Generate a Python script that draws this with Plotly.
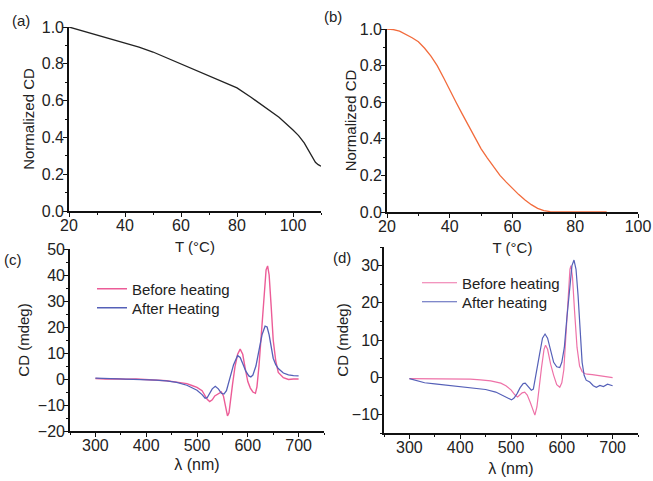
import plotly.graph_objects as go

# ---------------- data ----------------
temp_a = [20, 25, 30, 35, 40, 45, 50, 55, 60, 65, 70, 75, 80, 85, 90, 95, 100, 102, 104, 106, 107, 108, 109, 110]
cd_a = [1.0, 0.978, 0.958, 0.936, 0.915, 0.89, 0.864, 0.832, 0.80, 0.767, 0.736, 0.705, 0.669, 0.618, 0.564, 0.51,
        0.44, 0.41, 0.37, 0.32, 0.29, 0.265, 0.252, 0.243]

temp_b = [20, 22, 24, 26, 28, 30, 32, 34, 36, 38, 40, 42, 44, 46, 48, 50, 52, 54, 56, 58, 60, 62, 64, 66, 68, 70,
          72, 75, 80, 85, 90]
cd_b = [1.0, 0.997, 0.988, 0.972, 0.952, 0.93, 0.895, 0.852, 0.80, 0.735, 0.665, 0.60, 0.535, 0.47, 0.405, 0.345,
        0.295, 0.245, 0.20, 0.163, 0.128, 0.095, 0.066, 0.04, 0.02, 0.008, 0.002, 0.0, 0.0, 0.0, 0.0]

wl_c_before = [300, 320, 340, 360, 380, 400, 420, 440, 460, 480, 490, 500, 510, 515, 520, 525, 530, 535, 540, 548,
               552, 556, 560, 563, 566, 570, 575, 580, 585, 590, 595, 600, 605, 610, 615, 618, 622, 627, 632, 636,
               639, 642, 646, 650, 655, 660, 670, 680, 690, 700]
cd_c_before = [0.2, 0.0, 0.1, -0.1, 0.0, -0.2, -0.4, -0.7, -1.2, -1.8, -2.5, -3.2, -4.5, -6.0, -7.8, -8.7, -8.0,
               -6.5, -5.8, -5.0, -6.5, -10.0, -14.2, -13.0, -9.0, -2.0, 5.0, 9.5, 11.5, 9.5, 4.0, -1.0, -3.5, -5.0,
               -5.5, -3.0, 5.0, 18.0, 33.0, 42.0, 43.5, 40.0, 28.0, 15.0, 7.0, 2.5, 0.5, -0.2, 0.0, 0.0]

wl_c_after = [300, 320, 340, 360, 380, 400, 420, 440, 460, 480, 490, 500, 510, 516, 520, 525, 530, 536, 542, 548,
              553, 558, 565, 572, 580, 585, 590, 596, 602, 606, 610, 616, 622, 628, 634, 638, 642, 646, 650, 655,
              660, 670, 680, 690, 700]
cd_c_after = [0.3, 0.2, 0.1, 0.0, -0.1, -0.2, -0.4, -0.7, -1.3, -2.4, -3.2, -4.3, -6.0, -7.4, -7.2, -5.5, -3.8,
              -2.8, -3.8, -5.5, -5.8, -4.5, 0.5, 5.5, 9.0, 8.3, 6.0, 3.0, 1.2, 0.8, 1.5, 5.0, 11.0, 17.0, 20.3, 20.0,
              17.0, 12.0, 8.0, 5.5, 4.0, 2.3, 1.6, 1.3, 1.2]

wl_d_before = [300, 320, 340, 360, 380, 400, 420, 440, 460, 480, 490, 500, 508, 513, 518, 522, 527, 532, 538, 543,
               547, 551, 555, 560, 565, 568, 572, 578, 584, 590, 596, 600, 604, 608, 612, 616, 618, 621, 625, 630,
               635, 640, 645, 650, 660, 670, 680, 690, 700]
cd_d_before = [-0.4, -0.4, -0.3, -0.3, -0.3, -0.4, -0.5, -0.7, -1.0, -1.6, -2.3, -3.4, -4.8, -5.3, -4.8, -4.2,
               -4.0, -4.8, -6.8, -9.0, -10.2, -8.0, -3.0, 2.5, 7.5, 8.6, 7.5, 3.5, 0.5, -2.0, -2.7, -1.5, 2.0, 10.0,
               21.0, 29.0, 30.0, 27.0, 18.0, 8.0, 3.0, 1.5, 1.0, 0.8, 0.7, 0.5, 0.3, 0.3, -0.1]

wl_d_after = [300, 310, 320, 330, 350, 370, 390, 410, 430, 450, 470, 485, 495, 501, 506, 512, 518, 524, 528, 533,
              540, 544, 550, 556, 562, 567, 572, 578, 584, 590, 596, 600, 605, 610, 616, 620, 624, 628, 632, 636,
              640, 644, 648, 655, 662, 668, 675, 682, 690, 700]
cd_d_after = [-0.4, -0.8, -1.2, -1.5, -1.8, -2.1, -2.3, -2.6, -2.9, -3.3, -4.0, -5.0, -5.8, -6.1, -5.6, -4.4, -2.8,
              -1.7, -1.6, -2.5, -3.5, -3.2, 1.0, 6.0, 10.5, 11.6, 10.5, 7.0, 4.0, 2.8, 2.6, 4.0, 8.0, 16.0, 25.0,
              30.0, 31.5, 29.0, 22.0, 12.0, 4.0, 0.5, -0.8, -1.3, -2.3, -2.7, -2.2, -2.5, -1.9, -2.3]

# ---------------- figure ----------------
W, H = 653, 481
FONT = "Liberation Sans, Arial, sans-serif"
TXT = "#222222"
PINK_C = "#EC5C97"
PINK_D = "#EE72A8"
BLUE = "#5560B8"


def xd(px0, px1):
    return [px0 / W, px1 / W]


def yd(top_px, bottom_px):
    return [1 - bottom_px / H, 1 - top_px / H]


fig = go.Figure()

fig.add_trace(go.Scatter(x=temp_a, y=cd_a, mode="lines", line=dict(color="#222222", width=1.3),
                         xaxis="x", yaxis="y", showlegend=False))
fig.add_trace(go.Scatter(x=temp_b, y=cd_b, mode="lines", line=dict(color="#F26B3C", width=1.3),
                         xaxis="x2", yaxis="y2", showlegend=False))
fig.add_trace(go.Scatter(x=wl_c_before, y=cd_c_before, mode="lines", name="Before heating",
                         line=dict(color=PINK_C, width=1.4), xaxis="x3", yaxis="y3", legend="legend"))
fig.add_trace(go.Scatter(x=wl_c_after, y=cd_c_after, mode="lines", name="After Heating",
                         line=dict(color=BLUE, width=1.3), xaxis="x3", yaxis="y3", legend="legend2"))
fig.add_trace(go.Scatter(x=wl_d_before, y=cd_d_before, mode="lines", name="Before heating",
                         line=dict(color=PINK_D, width=1.2), xaxis="x4", yaxis="y4", legend="legend3"))
fig.add_trace(go.Scatter(x=wl_d_after, y=cd_d_after, mode="lines", name="After heating",
                         line=dict(color=BLUE, width=1.2), xaxis="x4", yaxis="y4", legend="legend4"))

tickfont = dict(family=FONT, size=16, color=TXT)


def ax(domain, rng, dtick, tick0, minor_dtick, anchor, title, standoff, tsize=15, tickformat=None, tls=-3):
    d = dict(domain=domain, range=rng, anchor=anchor, automargin=False, showline=True, linecolor="#111111",
             linewidth=1.6, showgrid=False, zeroline=False, ticks="outside", ticklen=4, tickwidth=1.3,
             tickcolor="#111111", dtick=dtick, tick0=tick0, tickfont=tickfont, ticklabelstandoff=tls,
             minor=dict(dtick=minor_dtick, tick0=tick0, ticks="outside", ticklen=2.5, tickwidth=1.2,
                        tickcolor="#111111", showgrid=False),
             title=dict(text=title, font=dict(family=FONT, size=tsize, color=TXT), standoff=standoff))
    if tickformat:
        d["tickformat"] = tickformat
    return d


def leg(px, py, iw):
    return dict(x=px / W, y=1 - py / H, xanchor="left", yanchor="middle", bgcolor="rgba(0,0,0,0)",
                borderwidth=0, font=dict(family=FONT, size=15, color=TXT), itemwidth=iw)


fig.update_layout(
    width=W, height=H,
    margin=dict(l=0, r=0, t=0, b=0),
    paper_bgcolor="white", plot_bgcolor="white",
    font=dict(family=FONT, color=TXT),
    xaxis=ax(xd(69, 321), [20, 110], 20, 20, 10, "y", "T (°C)", 8, tls=-5),
    yaxis=ax(yd(27, 211), [0, 1.0], 0.2, 0, 0.1, "x", "Normalized CD", 4, tickformat=".1f", tls=-4),
    xaxis2=ax(xd(387, 638), [20, 100], 20, 20, 10, "y2", "T (°C)", 8, tls=-5),
    yaxis2=ax(yd(29, 212), [0, 1.0], 0.2, 0, 0.1, "x2", "Normalized CD", 0, tickformat=".1f", tls=-4),
    xaxis3=ax(xd(70, 324), [250, 750], 100, 300, 50, "y3", "λ (nm)", 6, tsize=16, tls=-5),
    yaxis3=ax(yd(249, 431), [-20, 50], 10, 0, 5, "x3", "CD (mdeg)", 5, tls=-4),
    xaxis4=ax(xd(384, 638), [250, 750], 100, 300, 50, "y4", "λ (nm)", 8, tsize=16, tls=-5),
    yaxis4=ax(yd(247, 433), [-15, 35], 10, 0, 5, "x4", "CD (mdeg)", 0, tls=-4),
    legend=leg(92, 289, 30),
    legend2=leg(92, 308, 30),
    legend3=leg(417, 283, 35),
    legend4=leg(417, 302, 35),
)

labels = [("(a)", 21, 21), ("(b)", 333, 16), ("(c)", 13, 259), ("(d)", 342, 257)]
for txt, px, py in labels:
    fig.add_annotation(text=txt, x=px / W, y=1 - py / H, xref="paper", yref="paper", showarrow=False,
                       xanchor="center", yanchor="middle", font=dict(family=FONT, size=15, color=TXT))

fig.write_html("out.html", config={"displayModeBar": False},
               post_script="document.body.style.margin='0';document.body.style.overflow='hidden';")
